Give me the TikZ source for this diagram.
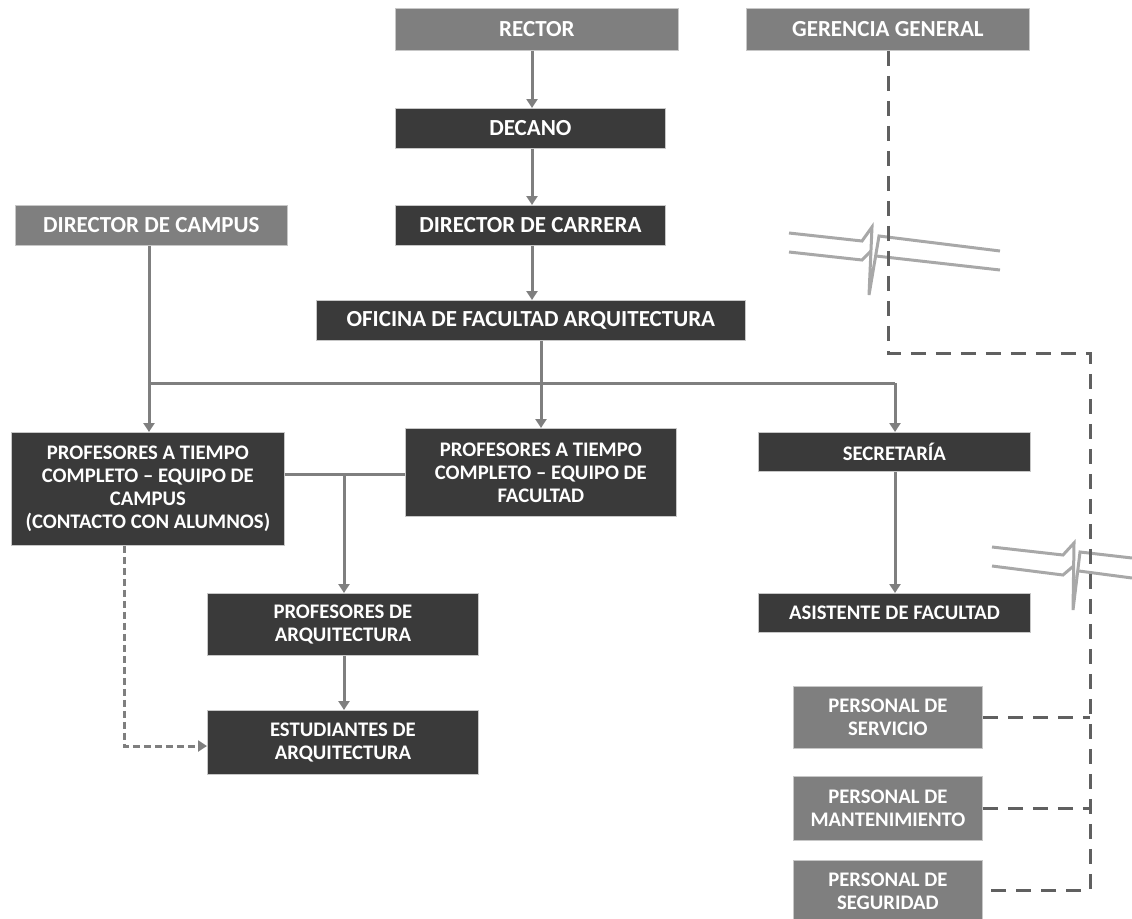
\documentclass[tikz,border=0pt]{standalone}
\usepackage{fontspec}
\setmainfont{Carlito}
\usetikzlibrary{arrows.meta}
\definecolor{darkbox}{HTML}{3A3A3A}
\definecolor{graybox}{HTML}{7F7F7F}
\definecolor{conn}{HTML}{7F7F7F}
\definecolor{dashc}{HTML}{606060}
\definecolor{brk}{HTML}{A8A8A8}
\begin{document}
\begin{tikzpicture}[x=1pt,y=-1pt,
  box/.style={draw=white!78!black, line width=0.8pt, text=white, align=center, inner sep=0pt, anchor=north west, font=\bfseries\fontsize{23}{23}\selectfont},
  dbox/.style={box, fill=darkbox},
  gbox/.style={box, fill=graybox},
  small/.style={font=\bfseries\fontsize{20.7}{23}\selectfont},
  line/.style={draw=conn, line width=3pt},
  arr/.style={line, -{Triangle[width=11pt,length=9pt]}},
  dashline/.style={draw=dashc, line width=3pt, dash pattern=on 15pt off 10pt},
  darr/.style={draw=conn, line width=3pt, dash pattern=on 7pt off 4pt, -{Triangle[width=11pt,length=9pt]}},
  brkline/.style={draw=brk, line width=3pt, line join=miter}
]
\useasboundingbox (0,0) rectangle (1132,918);

\node[gbox, minimum width=283pt, minimum height=42pt] (rector) at (395,8) {RECTOR};
\node[gbox, minimum width=283pt, minimum height=42pt] (gerencia) at (746,8) {GERENCIA GENERAL};
\node[dbox, minimum width=270pt, minimum height=40pt] (decano) at (395,108) {DECANO};
\node[dbox, minimum width=270pt, minimum height=40pt] (dircarrera) at (395,205) {DIRECTOR DE CARRERA};
\node[gbox, minimum width=272pt, minimum height=40pt] (dircampus) at (15,205) {DIRECTOR DE CAMPUS};
\node[dbox, minimum width=429pt, minimum height=40pt] (oficina) at (316,300) {OFICINA DE FACULTAD ARQUITECTURA};
\node[dbox, small, minimum width=273pt, minimum height=113pt] (profcampus) at (11,432) {PROFESORES A TIEMPO\\COMPLETO -- EQUIPO DE\\CAMPUS\\(CONTACTO CON ALUMNOS)};
\node[dbox, small, minimum width=271pt, minimum height=88pt] (proffac) at (405,428) {PROFESORES A TIEMPO\\COMPLETO -- EQUIPO DE\\FACULTAD};
\node[dbox, small, minimum width=272pt, minimum height=39pt] (secretaria) at (758,432) {SECRETARÍA};
\node[dbox, small, minimum width=271pt, minimum height=62pt] (profarq) at (207,593) {PROFESORES DE\\ARQUITECTURA};
\node[dbox, small, minimum width=271pt, minimum height=64pt] (estud) at (207,710) {ESTUDIANTES DE\\ARQUITECTURA};
\node[dbox, small, minimum width=272pt, minimum height=39pt] (asistente) at (758,593) {ASISTENTE DE FACULTAD};
\node[gbox, small, minimum width=189pt, minimum height=62pt] (servicio) at (793,686) {PERSONAL DE\\SERVICIO};
\node[gbox, small, minimum width=189pt, minimum height=64pt] (mant) at (793,776) {PERSONAL DE\\MANTENIMIENTO};
\node[gbox, small, minimum width=189pt, minimum height=62pt] (seguridad) at (793,860) {PERSONAL DE\\SEGURIDAD};

% coordinates
\coordinate (c1) at (532,0);
\coordinate (bL) at (149,383);
\coordinate (bM) at (541,383);
\coordinate (bR) at (895,383);
\coordinate (j) at (344,474);
\coordinate (d) at (124,746);
\coordinate (g1) at (888,353);
\coordinate (g2) at (1090,353);
\coordinate (g3) at (1090,890);

% breaks
\draw[brkline] (789,233) -- (862,241) -- (872,227) -- (869,295) -- (879,236) -- (1000,251);
\draw[brkline] (789,252) -- (862,260) -- (871,251);
\draw[brkline] (876,256) -- (1000,270);
\draw[brkline] (992,547) -- (1063,555) -- (1074,543) -- (1073,610) -- (1080,552) -- (1132,558);
\draw[brkline] (992,566) -- (1063,575) -- (1073.5,566);
\draw[brkline] (1079,571) -- (1132,578);

% solid connectors
\draw[arr] (c1 |- rector.south) -- (c1 |- decano.north);
\draw[arr] (c1 |- decano.south) -- (c1 |- dircarrera.north);
\draw[arr] (c1 |- dircarrera.south) -- (c1 |- oficina.north);
\draw[line] (bL |- dircampus.south) -- (bL);
\draw[line] (bL) -- (bR);
\draw[arr] (bL) -- (bL |- profcampus.north);
\draw[arr] (bR) -- (bR |- secretaria.north);
\draw[arr] (bM |- oficina.south) -- (bM |- proffac.north);
\draw[line] (j -| profcampus.east) -- (j -| proffac.west);
\draw[arr] (j) -- (j |- profarq.north);
\draw[arr] (j |- profarq.south) -- (j |- estud.north);
\draw[arr] (bR |- secretaria.south) -- (bR |- asistente.north);

% dashed
\draw[darr] (d |- profcampus.south) -- (d) -- (d -| estud.west);
\draw[dashline] (g1 |- gerencia.south) -- (g1) -- (g2) -- (g3) -- (g3 -| seguridad.east);
\draw[dashline] (servicio.east) -- (servicio.east -| g2);
\draw[dashline] (mant.east) -- (mant.east -| g2);
\end{tikzpicture}
\end{document}
